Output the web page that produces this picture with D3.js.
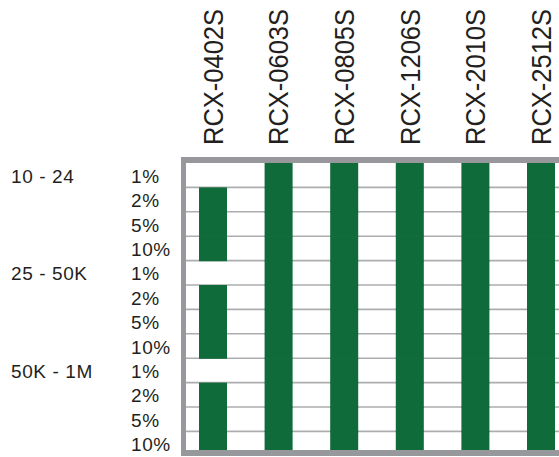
<!DOCTYPE html>
<html><head><meta charset="utf-8">
<script src="https://cdn.jsdelivr.net/npm/d3@7"></script>
<style>html,body{margin:0;padding:0;background:#fff;}svg{display:block;}</style>
</head><body>
<svg id="chart" width="559" height="457"></svg>
<script>
const products = ["RCX-0402S","RCX-0603S","RCX-0805S","RCX-1206S","RCX-2010S","RCX-2512S"];
const ranges = ["10 - 24","25 - 50K","50K - 1M"];
const tolerances = ["1%","2%","5%","10%"];
// availability per product, 12 rows (range x tolerance), 1 = available
const avail0402 = [0,1,1,1, 0,1,1,1, 0,1,1,1];
const avail0603 = [1,1,1,1, 1,1,1,1, 1,1,1,1];
const avail0805 = [1,1,1,1, 1,1,1,1, 1,1,1,1];
const avail1206 = [1,1,1,1, 1,1,1,1, 1,1,1,1];
const avail2010 = [1,1,1,1, 1,1,1,1, 1,1,1,1];
const avail2512 = [1,1,1,1, 1,1,1,1, 1,1,1,1];
const availability = [avail0402, avail0603, avail0805, avail1206, avail2010, avail2512];

const rows = [];
ranges.forEach(r => tolerances.forEach(t => rows.push(r + "|" + t)));

const svg = d3.select("#chart");
const green = "#106b3a", frame = "#97989b", textCol = "#231f20";

const x = d3.scaleBand().domain(products).range([180.2, 180.2 + 6*65.6]).paddingInner(0.573).paddingOuter(0.2865);
const y = d3.scaleBand().domain(rows).range([163, 455.8]).padding(0);

svg.append("defs").append("clipPath").attr("id", "plot")
  .append("rect").attr("x", 186).attr("y", 163).attr("width", 373).attr("height", 287);

const plot = svg.append("g").attr("clip-path", "url(#plot)");

// grid lines
plot.append("g").selectAll("line").data(rows.slice(1)).join("line")
  .attr("x1", 186).attr("x2", 559)
  .attr("y1", d => y(d)).attr("y2", d => y(d))
  .attr("stroke", "#acadaf").attr("stroke-width", 1.6);

// bars
const cells = [];
products.forEach((p, i) => availability[i].forEach((v, j) => { if (v) cells.push({p, row: rows[j]}); }));
plot.append("g").selectAll("rect").data(cells).join("rect")
  .attr("x", d => x(d.p)).attr("width", x.bandwidth())
  .attr("y", d => y(d.row)).attr("height", y.bandwidth() + 0.6)
  .attr("fill", green);

// frame
svg.append("rect").attr("x", 181).attr("y", 157).attr("width", 378).attr("height", 6).attr("fill", frame);
svg.append("rect").attr("x", 181).attr("y", 157).attr("width", 5).attr("height", 299).attr("fill", frame);
svg.append("rect").attr("x", 181).attr("y", 450).attr("width", 378).attr("height", 6).attr("fill", frame);

// column labels
svg.append("g").selectAll("text").data(products).join("text")
  .attr("transform", d => `translate(${x(d) + x.bandwidth()/2 + 9.7},145) rotate(-90)`)
  .attr("font-family", "Liberation Sans, Arial, sans-serif").attr("font-size", 27)
  .attr("textLength", 136).attr("lengthAdjust", "spacingAndGlyphs")
  .attr("fill", textCol).text(d => d);

// tolerance labels
svg.append("g").selectAll("text").data(rows).join("text")
  .attr("x", 131).attr("y", d => y(d) + y.bandwidth()/2 + 7.5)
  .attr("font-family", "Liberation Sans, Arial, sans-serif").attr("font-size", 19)
  .attr("letter-spacing", 0.6).attr("fill", textCol)
  .text(d => d.split("|")[1]);

// range labels
svg.append("g").selectAll("text").data(ranges).join("text")
  .attr("x", 11).attr("y", d => y(d + "|" + tolerances[0]) + y.bandwidth()/2 + 7.5)
  .attr("font-family", "Liberation Sans, Arial, sans-serif").attr("font-size", 19)
  .attr("letter-spacing", 0.6).attr("fill", textCol)
  .text(d => d);
</script>
</body></html>
